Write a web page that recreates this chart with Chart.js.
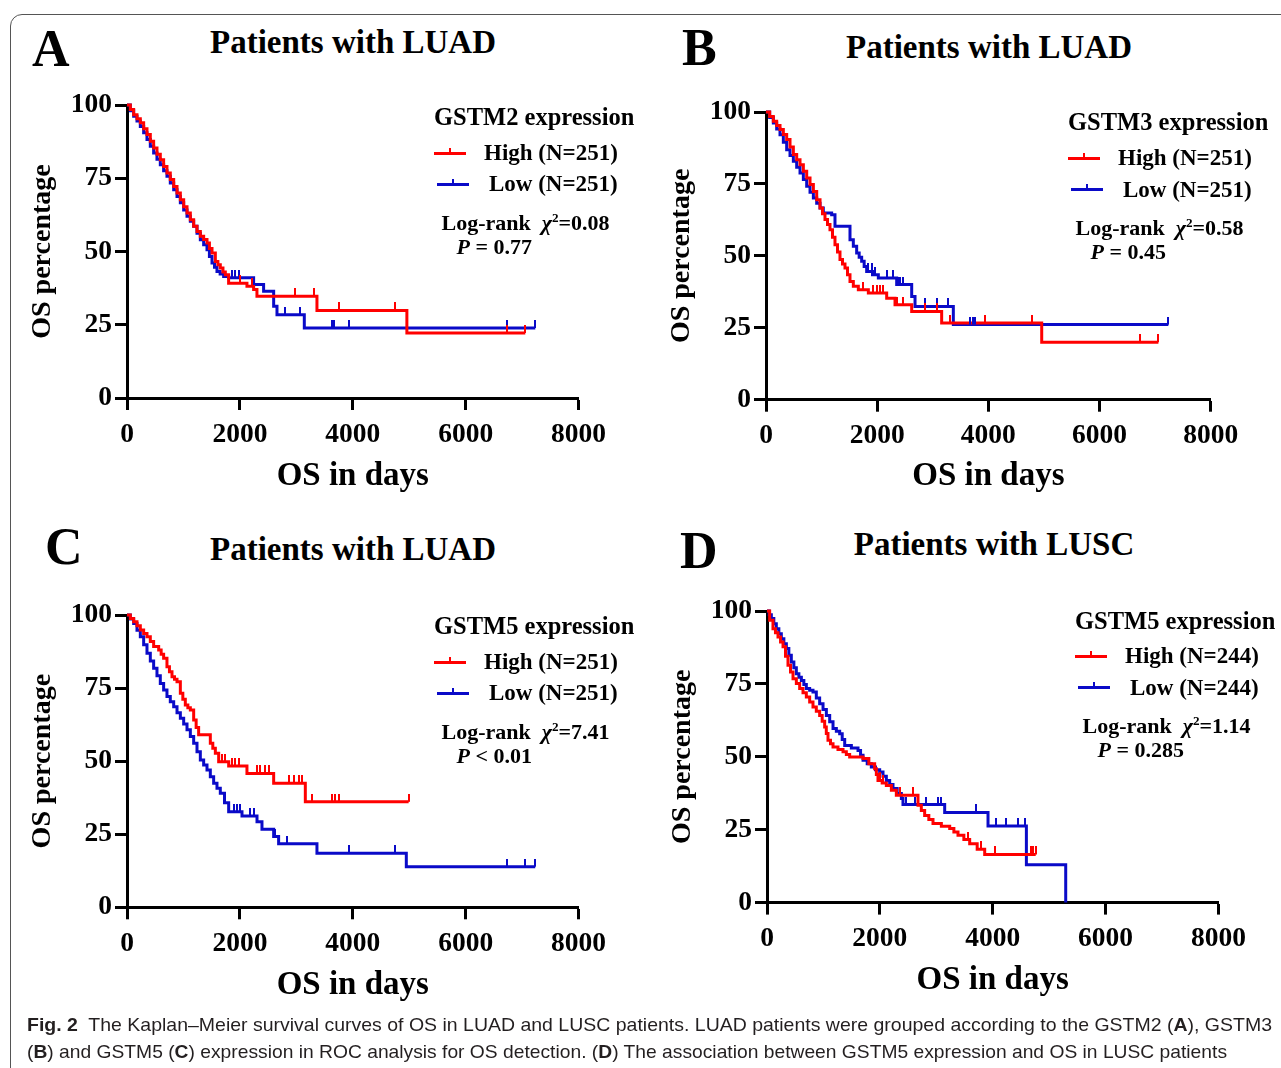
<!DOCTYPE html>
<html>
<head>
<meta charset="utf-8">
<script src="https://cdn.jsdelivr.net/npm/chart.js@4"></script>
<style>
  html, body { margin: 0; padding: 0; background: #fff; width: 1281px; height: 1068px; overflow: hidden; }
  body { position: relative; }
  .frame { position: absolute; left: 10px; top: 14px; width: 1320px; height: 1100px; border: 1.5px solid #555; border-radius: 12px; box-sizing: border-box; }
  canvas { position: absolute; }
  .t { position: absolute; white-space: nowrap; font-family: 'Liberation Serif', 'Times New Roman', serif; font-weight: bold; color: #000; }
  .t sup { font-size: 0.6em; line-height: 0; vertical-align: 0.6em; }
  .cap { position: absolute; white-space: nowrap; font-family: 'Liberation Sans Narrow', 'Liberation Sans', sans-serif; color: #231f20; font-size: 19px; line-height: 19px; transform-origin: 0 0; }
  .key { position: absolute; height: 3px; }
  .key i { position: absolute; left: 50%; bottom: 0; width: 2px; height: 7px; margin-left: -1px; }
</style>
</head>
<body>
<div class="frame"></div>
<script>
// axis ticks shared by all four panels
const X_TICKS = [0, 2000, 4000, 6000, 8000];
const Y_TICKS = [0, 25, 50, 75, 100];

const RED = '#ff0000';
const BLUE = '#0a0ac8';

// ---- A: GSTM2, LUAD ----
const A_HIGH_T = [0,59,118,177,236,295,354,413,472,531,590,649,708,767,827,886,945,1004,1063,1122,1181,1240,1299,1358,1417,1460,1506,1565,1610,1653,1700,1742,1800,2066,2125,2243,2302,3365,4958,7056];
const A_HIGH_S = [100,98.5,96.7,95.3,93.9,91.9,89.9,87.6,85.3,83.2,81.3,79.0,76.8,74.6,72.2,70.0,67.7,65.3,63.1,60.8,58.6,56.8,55.2,54.1,52.9,51.0,49.5,46.6,45.5,44.4,43.0,42.1,39.2,39.2,38.1,37.0,34.7,29.9,22.2,22.2];
const A_HIGH_C = [2007,2214,2982,3306,3749,4752,6731,7056];
const A_LOW_T = [0,59,118,177,236,295,354,413,472,531,590,649,708,767,827,886,945,1004,1063,1122,1181,1240,1299,1358,1417,1460,1506,1550,1594,1650,1712,1800,2243,2420,2598,2657,3141,7233];
const A_LOW_S = [100,98.0,96.2,94.5,92.7,90.5,88.2,85.9,83.6,81.5,79.6,77.6,75.7,73.4,71.1,68.8,66.6,64.2,62.0,60.3,58.6,56.2,54.0,52.3,50.6,48.3,46.1,44.6,43.2,42.3,41.5,41.0,38.7,36.4,31.3,28.4,23.9,23.9];
const A_LOW_C = [1860,1919,1978,2243,2420,2598,2805,3071,3631,3661,3927,6731,7233];

// ---- B: GSTM3, LUAD ----
const B_HIGH_T = [0,66,132,192,252,312,372,432,492,552,612,672,732,792,852,912,972,1016,1061,1106,1151,1196,1241,1286,1331,1376,1421,1466,1511,1571,1661,1841,2171,2321,2621,3160,4960,7059];
const B_HIGH_S = [100,98.4,96.8,95.3,93.9,92.2,90.4,87.8,85.2,83.4,81.7,79.4,77.1,74.8,72.4,69.5,66.6,64.6,62.6,60.9,59.1,56.5,53.9,51.3,48.7,47.2,45.8,43.4,41.1,39.4,38.2,37.1,35.3,33.0,30.7,26.7,20.0,20.0];
const B_HIGH_C = [1751,1931,1991,2051,2111,2350,2470,2861,3071,3310,3940,4780,6729,7059];
const B_LOW_T = [0,66,132,192,252,312,372,432,492,552,612,672,732,792,852,912,972,1031,1181,1241,1481,1511,1571,1631,1676,1721,1766,1811,1916,2021,2351,2621,2681,3370,7238];
const B_LOW_S = [100,98.1,96.2,94.1,92.1,89.5,86.9,84.9,82.9,80.8,78.8,76.5,74.2,72.1,70.1,68.3,66.6,64.9,64.3,60.3,60.3,55.6,53.3,51.0,49.5,48.1,46.3,44.6,43.4,42.3,40.0,35.9,32.4,26.1,26.1];
const B_LOW_C = [1841,1901,1961,2171,2291,2381,2411,2471,2861,3071,3280,3670,3730,3760,7238];

// ---- C: GSTM5, LUAD ----
const C_HIGH_T = [0,59,118,177,236,295,354,413,472,561,605,649,708,752,797,841,886,945,989,1033,1078,1122,1181,1225,1269,1417,1476,1520,1565,1624,1801,2125,2598,3159,4989];
const C_HIGH_S = [100,98.8,97.7,96.3,94.9,93.7,92.6,90.9,89.2,88.0,86.6,85.2,82.3,80.6,78.9,78.0,77.2,73.2,71.2,69.2,68.3,67.5,64.1,61.5,59.0,59.0,56.1,54.4,52.7,49.8,48.3,45.8,42.4,36.1,36.1];
const C_HIGH_C = [1683,1742,1860,1919,1978,2303,2362,2450,2509,2863,2952,3041,3100,3277,3631,3690,3749,4989];
const C_LOW_T = [0,59,118,177,236,295,354,413,472,531,590,649,708,767,827,886,945,1004,1063,1122,1181,1240,1299,1358,1417,1476,1535,1594,1653,1727,1801,2037,2303,2391,2598,2686,3365,4948,7232];
const C_LOW_S = [100,98.6,97.1,94.8,92.6,89.8,86.9,84.3,81.8,79.2,76.6,74.3,72.1,70.3,68.6,66.6,64.7,62.7,60.7,58.4,56.1,53.2,50.4,48.7,47.0,44.7,42.4,40.7,39.0,35.8,32.7,31.2,29.3,26.7,24.2,21.7,18.5,13.9,13.9];
const C_LOW_C = [1889,1948,2007,2184,2244,2627,2834,3926,4753,6731,7055,7232];

// ---- D: GSTM5, LUSC ----
const D_HIGH_T = [0,47,106,150,195,240,284,328,372,416,461,520,579,638,697,756,815,874,933,978,1022,1051,1081,1125,1170,1258,1347,1406,1465,1702,1805,1908,1938,1967,2041,2115,2204,2292,2617,2676,2735,2794,2868,2942,3090,3238,3312,3385,3489,3592,3725,3858,4762];
const D_HIGH_S = [100,96.8,93.9,92.5,91.1,89.4,87.7,84.5,81.4,79.1,76.8,75.1,73.4,72.0,70.5,68.8,67.1,65.6,64.2,62.2,60.2,58.0,55.7,54.5,53.4,52.5,51.7,50.8,49.9,49.4,47.6,45.9,43.9,41.9,41.0,40.2,38.5,36.8,36.8,33.4,31.6,29.9,28.5,27.1,26.2,25.4,24.2,23.1,21.6,20.2,18.3,16.5,16.5];
const D_HIGH_C = [1997,2056,2351,2588,3563,3799,4035,4685,4715,4762];
const D_LOW_T = [0,38,77,121,165,210,254,299,343,387,431,476,520,565,609,653,697,756,815,874,933,993,1052,1111,1170,1229,1288,1333,1377,1495,1613,1658,1702,1776,1849,1923,1997,2056,2115,2174,2233,2307,2381,2410,3119,3149,3917,4597,5294];
const D_LOW_S = [100,98.7,97.4,95.6,93.9,92.2,90.5,88.8,87.1,84.8,82.5,80.5,78.5,77.3,76.2,74.8,73.4,72.8,72.2,70.2,68.2,66.2,64.2,62.0,59.7,58.8,57.9,55.9,53.9,53.0,52.2,50.5,48.8,47.6,46.5,45.6,44.8,43.3,41.9,40.5,39.1,37.4,35.7,33.6,33.6,30.9,26.3,13.0,0];
const D_LOW_C = [2470,2617,2824,3031,3090,3710,4065,4242,4449,4568];

const SERIF = "'Liberation Serif', 'Times New Roman', serif";

// little upward tick used as the censor marker
function tickMark(color) {
  const c = document.createElement('canvas');
  c.width = 2; c.height = 16;
  const g = c.getContext('2d');
  g.fillStyle = color;
  g.fillRect(0, 0, 2, 8);
  return c;
}

// survival value shown at time t (step curve, value of last event <= t)
function survAt(T, S, t) {
  let v = S[0];
  for (let i = 0; i < T.length; i++) if (T[i] <= t) v = S[i];
  return v;
}

function curve(T, S, color, order) {
  return {
    data: T.map((t, i) => ({ x: t, y: S[i] })),
    borderColor: color, borderWidth: 3, stepped: true,
    pointRadius: 0, fill: false, order: order, clip: 6
  };
}

function censor(T, S, C, color, order) {
  return {
    data: C.map(t => ({ x: t, y: survAt(T, S, t) })),
    showLine: false, pointStyle: tickMark(color), pointRadius: 3,
    borderWidth: 0, order: order, clip: 10
  };
}

function makePanel(area, yTitleX, xTitleY, hi, lo) {
  const cx = area.l - 107, cy = area.t - 20;
  const cw = Math.round(area.r + 62 - cx), ch = Math.round(area.b + 112 - cy);
  const cv = document.createElement('canvas');
  cv.width = cw; cv.height = ch;
  cv.style.left = cx + 'px'; cv.style.top = cy + 'px';
  cv.style.width = cw + 'px'; cv.style.height = ch + 'px';
  document.body.appendChild(cv);

  const tickFont = { family: SERIF, weight: 'bold', size: 27.5 };
  new Chart(cv, {
    type: 'line',
    data: {
      datasets: [
        curve(lo[0], lo[1], BLUE, 4),
        curve(hi[0], hi[1], RED, 3),
        censor(lo[0], lo[1], lo[2], BLUE, 2),
        censor(hi[0], hi[1], hi[2], RED, 1)
      ]
    },
    options: {
      responsive: false, animation: false, devicePixelRatio: 1,
      layout: { padding: { left: 0, top: 20, right: cw - (area.r - cx), bottom: 0 } },
      plugins: { legend: { display: false }, tooltip: { enabled: false } },
      scales: {
        x: {
          type: 'linear', min: 0, max: 8000,
          afterBuildTicks: s => { s.ticks = X_TICKS.map(v => ({ value: v })); },
          afterFit: s => { s.height = ch - (area.b - cy); },
          grid: { display: true, drawOnChartArea: false, drawTicks: true, tickLength: 12, tickWidth: 3, tickColor: '#000' },
          border: { display: true, color: '#000', width: 3 },
          ticks: { font: tickFont, color: '#000', padding: 8, maxRotation: 0, autoSkip: false, callback: v => String(v) },
          title: { display: true, text: 'OS in days', color: '#000',
                   font: { family: SERIF, weight: 'bold', size: 33 },
                   padding: { top: 0, bottom: (cy + ch) - xTitleY - 19.8 } }
        },
        y: {
          min: 0, max: 100,
          afterBuildTicks: s => { s.ticks = Y_TICKS.map(v => ({ value: v })); },
          afterFit: s => { s.width = area.l - cx; },
          grid: { display: true, drawOnChartArea: false, drawTicks: true, tickLength: 12, tickWidth: 3, tickColor: '#000' },
          border: { display: true, color: '#000', width: 3 },
          ticks: { font: tickFont, color: '#000', padding: 3, callback: v => String(v) },
          title: { display: true, text: 'OS percentage', color: '#000',
                   font: { family: SERIF, weight: 'bold', size: 28 },
                   padding: { top: yTitleX - cx - 16.8, bottom: 0 } }
        }
      }
    }
  });
}

// positioned text, x = left (or centre), base = baseline
function addText(html, x, base, size, center) {
  const d = document.createElement('div');
  d.className = 't';
  d.innerHTML = html;
  d.style.fontSize = size + 'px';
  d.style.lineHeight = size + 'px';
  d.style.top = (base - 0.8375 * size) + 'px';
  d.style.left = x + 'px';
  if (center) d.style.transform = 'translateX(-50%)';
  document.body.appendChild(d);
}

function addKey(x1, x2, y, color) {
  const k = document.createElement('div');
  k.className = 'key';
  k.style.left = x1 + 'px'; k.style.width = (x2 - x1) + 'px';
  k.style.top = (y - 1.5) + 'px'; k.style.background = color;
  const i = document.createElement('i');
  i.style.background = color;
  k.appendChild(i);
  document.body.appendChild(k);
}

function legendBlock(x, base, gene, n, chi, p) {
  addText(gene + ' expression', x, base, 24.5);
  addKey(x, x + 32, base + 27.5, RED);
  addText('High (N=' + n + ')', x + 50, base + 34.3, 23);
  addKey(x + 3, x + 35, base + 58.5, BLUE);
  addText('Low (N=' + n + ')', x + 55, base + 66, 23);
  addText('Log-rank&nbsp; <i>&chi;</i><sup>2</sup>=' + chi, x + 7.5, base + 104.3, 22);
  addText('<i>P</i> ' + p, x + 22.5, base + 128.6, 22);
}

makePanel({ l: 126.7, t: 105.3, r: 578.3, b: 398.3 }, 42.2, 476.5,
  [A_HIGH_T, A_HIGH_S, A_HIGH_C], [A_LOW_T, A_LOW_S, A_LOW_C]);
makePanel({ l: 766, t: 112.3, r: 1210.7, b: 400 }, 682, 476.5,
  [B_HIGH_T, B_HIGH_S, B_HIGH_C], [B_LOW_T, B_LOW_S, B_LOW_C]);
makePanel({ l: 126.7, t: 615, r: 578.3, b: 907.3 }, 42.2, 985.5,
  [C_HIGH_T, C_HIGH_S, C_HIGH_C], [C_LOW_T, C_LOW_S, C_LOW_C]);
makePanel({ l: 767.3, t: 610.7, r: 1218.7, b: 902.3 }, 683, 980.5,
  [D_HIGH_T, D_HIGH_S, D_HIGH_C], [D_LOW_T, D_LOW_S, D_LOW_C]);

// panel letters and titles
addText('A', 32, 67, 52);
addText('Patients with LUAD', 353, 54, 33, true);
addText('B', 682, 66, 52);
addText('Patients with LUAD', 989, 59, 33, true);
addText('C', 45, 565, 52);
addText('Patients with LUAD', 353, 561, 33, true);
addText('D', 680, 569, 52);
addText('Patients with LUSC', 994, 556, 33, true);

legendBlock(434, 125.7, 'GSTM2', 251, '0.08', '= 0.77');
legendBlock(1068, 131, 'GSTM3', 251, '0.58', '= 0.45');
legendBlock(434, 634.7, 'GSTM5', 251, '7.41', '&lt; 0.01');
legendBlock(1075, 629.3, 'GSTM5', 244, '1.14', '= 0.285');

// caption, two lines stretched to the widths seen in the figure
const CAPTION = [
  ['<b>Fig. 2</b>&nbsp; The Kaplan–Meier survival curves of OS in LUAD and LUSC patients. LUAD patients were grouped according to the GSTM2 (<b>A</b>), GSTM3', 27, 1032, 1245],
  ['(<b>B</b>) and GSTM5 (<b>C</b>) expression in ROC analysis for OS detection. (<b>D</b>) The association between GSTM5 expression and OS in LUSC patients', 27, 1059, 1200]
];
CAPTION.forEach(([html, x, base, w]) => {
  const d = document.createElement('div');
  d.className = 'cap';
  d.innerHTML = html;
  d.style.left = x + 'px';
  d.style.top = (base - 0.9 * 19) + 'px';
  document.body.appendChild(d);
  const real = d.getBoundingClientRect().width;
  d.style.transform = 'scaleX(' + (w / real) + ')';
});
</script>
</body>
</html>
